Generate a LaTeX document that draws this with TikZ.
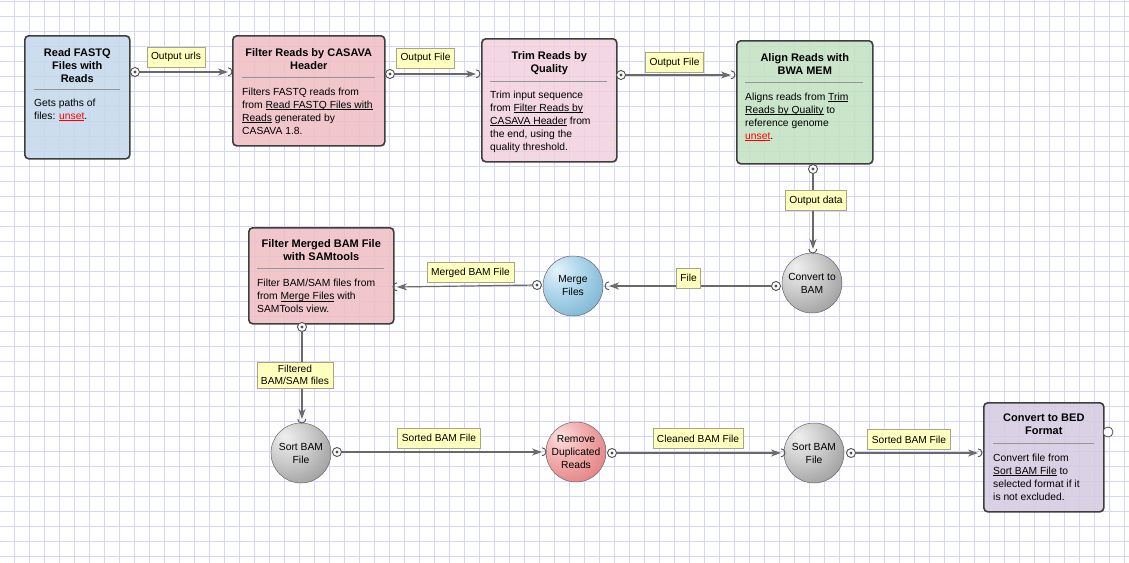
\documentclass[tikz,border=0pt]{standalone}
\usepackage{fontspec}
\setmainfont{Liberation Sans}
\usepackage{xcolor}
\usetikzlibrary{positioning, arrows.meta, calc}

\definecolor{gridc}{RGB}{212,212,252}
\definecolor{readfill}{RGB}{196,216,236}
\definecolor{casavafill}{RGB}{240,190,196}
\definecolor{trimfill}{RGB}{241,208,222}
\definecolor{alignfill}{RGB}{194,225,194}
\definecolor{bedfill}{RGB}{212,203,224}
\definecolor{boxline}{RGB}{62,62,62}
\definecolor{sepline}{RGB}{150,150,150}
\definecolor{edgec}{RGB}{105,105,105}
\definecolor{tipc}{RGB}{135,135,135}
\definecolor{notefill}{RGB}{255,255,190}
\definecolor{noteline}{RGB}{165,165,135}
\definecolor{portc}{RGB}{80,80,80}
\definecolor{linkred}{RGB}{255,0,0}

\pgfdeclareradialshading{graysphere}{\pgfpoint{-14bp}{14bp}}{rgb(0bp)=(0.94,0.94,0.94); rgb(18bp)=(0.80,0.80,0.80); rgb(42bp)=(0.58,0.58,0.58); rgb(66bp)=(0.38,0.38,0.38); rgb(80bp)=(0.38,0.38,0.38)}
\pgfdeclareradialshading{bluesphere}{\pgfpoint{-14bp}{14bp}}{rgb(0bp)=(0.90,0.95,0.98); rgb(18bp)=(0.68,0.84,0.92); rgb(42bp)=(0.45,0.68,0.80); rgb(66bp)=(0.27,0.52,0.67); rgb(80bp)=(0.27,0.52,0.67)}
\pgfdeclareradialshading{redsphere}{\pgfpoint{-14bp}{14bp}}{rgb(0bp)=(0.99,0.88,0.88); rgb(18bp)=(0.95,0.68,0.68); rgb(42bp)=(0.87,0.47,0.47); rgb(66bp)=(0.74,0.30,0.30); rgb(80bp)=(0.74,0.30,0.30)}

\newsavebox{\lnkbox}
\newcommand{\lnk}[1]{\sbox{\lnkbox}{#1}\rlap{\rule[-2pt]{\wd\lnkbox}{0.7pt}}\usebox{\lnkbox}}
\newcommand{\unsetlnk}{\textcolor{linkred}{\lnk{unset}}}

\tikzset{
  gridline/.style={draw=gridc, line width=0.9pt},
  task/.style={draw=boxline, line width=1.6pt, rounded corners=4pt, fill opacity=0.85, anchor=north west, inner sep=0pt},
  ttl/.style={font=\fontsize{11}{13}\selectfont\bfseries, align=center, inner sep=0pt, anchor=north},
  txt/.style={font=\fontsize{10.3}{13}\selectfont, align=left, inner sep=0pt, anchor=north west},
  sep/.style={draw=sepline, line width=0.8pt},
  proc/.style={circle, shade, minimum size=60pt, inner sep=0pt, draw=black!60, line width=0.5pt, align=center, font=\fontsize{10.3}{13}\selectfont},
  note/.style={draw=noteline, fill=notefill, line width=0.8pt, inner xsep=4pt, inner ysep=3pt, minimum height=20pt, font=\fontsize{10.2}{12.5}\selectfont, align=center},
  outport/.style={circle, draw=portc, fill=white, line width=0.9pt, minimum size=9pt, inner sep=0pt, path picture={\fill[portc] (path picture bounding box.center) circle (1.6pt);}},
  openport/.style={circle, draw=portc, fill=white, line width=0.8pt, minimum size=10pt, inner sep=0pt},
  inport/.style={circle, minimum size=8pt, inner sep=0pt},
  portarc/.style={draw=portc, line width=0.9pt},
  flow/.style={draw=edgec, line width=1.2pt, -{Stealth[length=10pt, width=7pt, inset=3pt, fill=tipc]}},
}

\begin{document}
\begin{tikzpicture}[x=1pt, y=-1pt]
  \useasboundingbox (0,0) rectangle (1129,562);
  \fill[white] (0,0) rectangle (1129,562);
  \begin{scope}
    \clip (0,0) rectangle (1129,562);
    \draw[gridline, xshift=14pt, yshift=-1.5pt] (-15,-15) grid[step=15pt] (1125,570);
  \end{scope}

  % task boxes
  \node[task, fill=readfill, minimum width=105pt, minimum height=123pt] (read) at (24,35) {};
  \node[ttl, below=13pt of read.north] (read-t) {Read FASTQ\\Files with\\Reads};
  \draw[sep] (34,89) -- (120,89);
  \node[txt] (read-d) at (34,98.5) {Gets paths of\\files: \unsetlnk.};

  \node[task, fill=casavafill, minimum width=152pt, minimum height=110pt] (casava) at (232,35) {};
  \node[ttl, below=13pt of casava.north] (casava-t) {Filter Reads by CASAVA\\Header};
  \draw[sep] (242,77.5) -- (375,77.5);
  \node[txt] (casava-d) at (242,87.5) {Filters FASTQ reads from\\from \lnk{Read FASTQ Files with}\\\lnk{Reads} generated by\\CASAVA 1.8.};

  \node[task, fill=trimfill, minimum width=135pt, minimum height=123pt] (trim) at (481,38) {};
  \node[ttl, below=13pt of trim.north] (trim-t) {Trim Reads by\\Quality};
  \draw[sep] (490,81) -- (607,81);
  \node[txt] (trim-d) at (490,90.5) {Trim input sequence\\from \lnk{Filter Reads by}\\\lnk{CASAVA Header} from\\the end, using the\\quality threshold.};

  \node[task, fill=alignfill, minimum width=136pt, minimum height=123pt] (align) at (736,40) {};
  \node[ttl, below=13pt of align.north] (align-t) {Align Reads with\\BWA MEM};
  \draw[sep] (745,82) -- (863,82);
  \node[txt] (align-d) at (745,92.5) {Aligns reads from \lnk{Trim}\\\lnk{Reads by Quality} to\\reference genome\\\unsetlnk.};

  \node[task, fill=casavafill, minimum width=145pt, minimum height=96pt] (fm) at (248,227) {};
  \node[ttl, below=12.5pt of fm.north] (fm-t) {Filter Merged BAM File\\with SAMtools};
  \draw[sep] (257,268) -- (384,268);
  \node[txt] (fm-d) at (257,279) {Filter BAM/SAM files from\\from \lnk{Merge Files} with\\SAMTools view.};

  \node[task, fill=bedfill, minimum width=120pt, minimum height=109pt] (bed) at (983,402) {};
  \node[ttl, below=11.5pt of bed.north] (bed-t) {Convert to BED\\Format};
  \draw[sep] (993,443) -- (1094,443);
  \node[txt] (bed-d) at (993,453.5) {Convert file from\\\lnk{Sort BAM File} to\\selected format if it\\is not excluded.};

  % round steps
  \node[proc, shading=graysphere] (bam) at (812,283) {Convert to\\BAM};
  \node[proc, shading=bluesphere] (merge) at (573,286) {Merge\\Files};
  \node[proc, shading=graysphere] (sort) at (301,453) {Sort BAM\\File};
  \node[proc, shading=redsphere] (rmdup) at (576,452) {Remove\\Duplicated\\Reads};
  \node[proc, shading=graysphere] (sort2) at (814,453) {Sort BAM\\File};

  % ports
  \node[inport] (casava-in) at (228,72) {};
  \node[inport] (trim-in) at (476,74) {};
  \node[inport] (align-in) at (731,75) {};
  \node[inport] (bam-in) at (813,249) {};
  \node[inport] (merge-in) at (609,286) {};
  \node[inport] (fm-in) at (397,287) {};
  \node[inport] (sort-in) at (302,419) {};
  \node[inport] (rmdup-in) at (542,452) {};
  \node[inport] (sort2-in) at (781,453) {};
  \node[inport] (bed-in) at (978,453) {};

  \node[outport] (read-out) at (135,72) {};
  \node[outport] (casava-out) at (390,74) {};
  \node[outport] (trim-out) at (621,75) {};
  \node[outport] (align-out) at (813,169) {};
  \node[outport] (bam-out) at (776,286) {};
  \node[outport] (merge-out) at (537,285) {};
  \node[outport] (fm-out) at (302,327) {};
  \node[outport] (sort-out) at (337,452) {};
  \node[outport] (rmdup-out) at (612,453) {};
  \node[outport] (sort2-out) at (851,453) {};
  \node[openport] (bed-out) at (1108,432) {};

  \foreach \a/\b in {read-out/casava-in, casava-out/trim-in, trim-out/align-in, align-out/bam-in, bam-out/merge-in,
                     merge-out/fm-in, fm-out/sort-in, sort-out/rmdup-in, rmdup-out/sort2-in, sort2-out/bed-in}
    \draw[flow] (\a) -- (\b.center);

  \foreach \p in {casava-in, trim-in, align-in, rmdup-in, sort2-in, bed-in}
    \draw[portarc] (\p.north) arc[start angle=90, end angle=-90, radius=4pt];
  \foreach \p in {merge-in, fm-in}
    \draw[portarc] (\p.north) arc[start angle=90, end angle=270, radius=4pt];
  \foreach \p in {bam-in, sort-in}
    \draw[portarc] (\p.west) arc[start angle=180, end angle=360, radius=4pt];

  % edge labels
  \node[note] (urls-l) at (176,57) {Output urls};
  \node[note] (casava-l) at (425.5,58) {Output File};
  \node[note] (trim-l) at (674.5,62.5) {Output File};
  \node[note] (align-l) at (816,200.5) {Output data};
  \node[note] (bam-l) at (688.5,278) {File};
  \node[note] (merge-l) at (470.5,272.5) {Merged BAM File};
  \node[note] (fm-l) at (295,375) {Filtered\\BAM/SAM files};
  \node[note] (sort-l) at (439,438) {Sorted BAM File};
  \node[note] (rmdup-l) at (698,438.5) {Cleaned BAM File};
  \node[note] (sort2-l) at (909,439.5) {Sorted BAM File};
\end{tikzpicture}
\end{document}
